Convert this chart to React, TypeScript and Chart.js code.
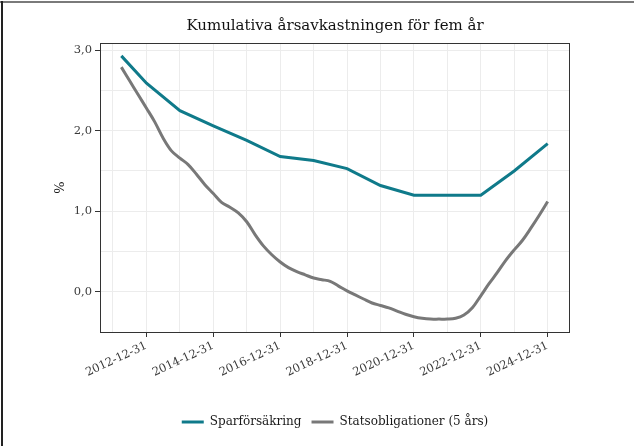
import React, { useEffect, useRef } from "react";
import { Chart, registerables } from "chart.js";

Chart.register(...registerables);

const TITLE = "Kumulativa årsavkastningen för fem år";
const Y_LABEL = "%";
const SERIES_NAMES = ["Sparförsäkring", "Statsobligationer (5 års)"];
const SERIES_COLORS = ["#0f7a8a", "#787878"];

const SPAR_DATES = [
  "2012-03-31", "2012-12-31", "2013-12-31", "2014-12-31", "2015-12-31",
  "2016-12-31", "2017-12-31", "2018-12-31", "2019-12-31", "2020-12-31",
  "2021-12-31", "2022-12-31", "2023-12-31", "2024-12-31",
];
const SPAR_VALUES = [2.93, 2.59, 2.25, 2.06, 1.88, 1.68, 1.63, 1.53, 1.32, 1.2, 1.2, 1.2, 1.5, 1.84];

const STATS_DATES = [
  "2012-03-31", "2012-06-30", "2012-09-30", "2012-12-31",
  "2013-03-31", "2013-06-30", "2013-09-30", "2013-12-31",
  "2014-03-31", "2014-06-30", "2014-09-30", "2014-12-31",
  "2015-03-31", "2015-06-30", "2015-09-30", "2015-12-31",
  "2016-03-31", "2016-06-30", "2016-09-30", "2016-12-31",
  "2017-03-31", "2017-06-30", "2017-09-30", "2017-12-31",
  "2018-03-31", "2018-06-30", "2018-09-30", "2018-12-31",
  "2019-03-31", "2019-06-30", "2019-09-30", "2019-12-31",
  "2020-03-31", "2020-06-30", "2020-09-30", "2020-12-31",
  "2021-03-31", "2021-06-30", "2021-09-30", "2021-12-31",
  "2022-03-31", "2022-06-30", "2022-09-30", "2022-12-31",
  "2023-03-31", "2023-06-30", "2023-09-30", "2023-12-31",
  "2024-03-31", "2024-06-30", "2024-09-30", "2024-12-31",
];
const STATS_VALUES = [
  2.79, 2.62, 2.45, 2.28,
  2.11, 1.91, 1.75, 1.66,
  1.58, 1.46, 1.33, 1.22,
  1.11, 1.05, 0.98, 0.87,
  0.71, 0.57, 0.46, 0.37,
  0.3, 0.25, 0.21, 0.17,
  0.15, 0.13, 0.07, 0.01,
  -0.04, -0.09, -0.14, -0.17,
  -0.2, -0.24, -0.28, -0.31,
  -0.33, -0.34, -0.34, -0.34,
  -0.33, -0.29, -0.2, -0.05,
  0.1, 0.24, 0.39, 0.52,
  0.64, 0.79, 0.95, 1.12,
];

const X_GRID_DATES = [
  "2011-12-31", "2012-12-31", "2013-12-31", "2014-12-31", "2015-12-31",
  "2016-12-31", "2017-12-31", "2018-12-31", "2019-12-31", "2020-12-31",
  "2021-12-31", "2022-12-31", "2023-12-31", "2024-12-31",
];
const X_TICK_LABELS = [
  "2012-12-31", "2014-12-31", "2016-12-31", "2018-12-31",
  "2020-12-31", "2022-12-31", "2024-12-31",
];
const Y_GRID_VALUES = [-0.5, 0, 0.5, 1, 1.5, 2, 2.5, 3];
const Y_TICK_VALUES = [0, 1, 2, 3];
const Y_MIN = -0.5;
const Y_MAX = 3.09;

const FONT = "'DejaVu Serif', serif";

const ts = (d: string) => Date.parse(d + "T00:00:00Z");
const fmtDate = (v: number) => new Date(v).toISOString().slice(0, 10);

const panelBorder = {
  id: "panelBorder",
  afterDraw(chart: any) {
    const { ctx, chartArea } = chart;
    ctx.save();
    ctx.strokeStyle = "#333333";
    ctx.lineWidth = 1;
    ctx.strokeRect(
      Math.round(chartArea.left) + 0.5,
      Math.round(chartArea.top) + 0.5,
      Math.round(chartArea.right - chartArea.left),
      Math.round(chartArea.bottom - chartArea.top)
    );
    ctx.restore();
  },
};

export default function App() {
  const ref = useRef<HTMLCanvasElement | null>(null);

  useEffect(() => {
    if (!ref.current) return;
    const sparData = SPAR_DATES.map((d, i) => ({ x: ts(d), y: SPAR_VALUES[i] }));
    const statsData = STATS_DATES.map((d, i) => ({ x: ts(d), y: STATS_VALUES[i] }));
    const allX = [...SPAR_DATES, ...STATS_DATES].map(ts);
    const xmin0 = Math.min(...allX);
    const xmax0 = Math.max(...allX);
    const pad = (xmax0 - xmin0) * 0.05;
    const labeled = new Set(X_TICK_LABELS);

    const chart = new Chart(ref.current, {
      type: "line",
      data: {
        datasets: [
          {
            label: SERIES_NAMES[0],
            data: sparData,
            borderColor: SERIES_COLORS[0],
            backgroundColor: SERIES_COLORS[0],
            borderWidth: 3,
            pointRadius: 0,
            tension: 0,
            borderCapStyle: "butt",
          },
          {
            label: SERIES_NAMES[1],
            data: statsData,
            borderColor: SERIES_COLORS[1],
            backgroundColor: SERIES_COLORS[1],
            borderWidth: 3,
            pointRadius: 0,
            tension: 0.35,
            borderCapStyle: "butt",
          },
        ],
      },
      options: {
        responsive: false,
        animation: false,
        layout: { padding: { left: 36, right: 0, top: 8, bottom: 8 } },
        plugins: {
          title: {
            display: true,
            text: TITLE,
            color: "#111111",
            font: { family: FONT, size: 15, weight: "normal" },
            padding: { top: 9, bottom: 8 },
          },
          legend: {
            position: "bottom",
            labels: {
              boxWidth: 22,
              boxHeight: 3,
              padding: 10,
              color: "#1a1a1a",
              font: { family: FONT, size: 12 },
              generateLabels: (c: any) =>
                c.data.datasets.map((ds: any, i: number) => ({
                  text: ds.label,
                  fillStyle: ds.borderColor,
                  strokeStyle: ds.borderColor,
                  lineWidth: 0,
                  hidden: false,
                  datasetIndex: i,
                  fontColor: "#1a1a1a",
                })),
            },
          },
          tooltip: { enabled: false },
        },
        scales: {
          x: {
            type: "linear",
            min: xmin0 - pad,
            max: xmax0 + pad,
            afterBuildTicks: (scale: any) => {
              scale.ticks = X_GRID_DATES.map((d) => ({ value: ts(d) }));
            },
            afterFit: (scale: any) => {
              scale.height = 74;
            },
            ticks: {
              autoSkip: false,
              minRotation: 25,
              maxRotation: 25,
              padding: 2,
              color: "#3a3a3a",
              font: { family: FONT, size: 11.5 },
              callback: (v: any) => {
                const s = fmtDate(Number(v));
                return labeled.has(s) ? s : "";
              },
            },
            grid: {
              color: "#ececec",
              lineWidth: 1,
              tickLength: 5,
              tickColor: (ctx: any) =>
                ctx.tick && labeled.has(fmtDate(ctx.tick.value)) ? "#333333" : "rgba(0,0,0,0)",
            },
            border: { display: true, color: "#333333" },
          },
          y: {
            type: "linear",
            min: Y_MIN,
            max: Y_MAX,
            afterBuildTicks: (scale: any) => {
              scale.ticks = Y_GRID_VALUES.map((v) => ({ value: v }));
            },
            ticks: {
              autoSkip: false,
              padding: 3,
              color: "#3a3a3a",
              font: { family: FONT, size: 11.5 },
              callback: (v: any) =>
                Y_TICK_VALUES.includes(Number(v)) ? Number(v).toFixed(1).replace(".", ",") : "",
            },
            grid: {
              color: (ctx: any) => (ctx.tick && ctx.tick.value === Y_MIN ? "rgba(0,0,0,0)" : "#ececec"),
              lineWidth: 1,
              tickLength: 5,
              tickColor: (ctx: any) =>
                ctx.tick && Y_TICK_VALUES.includes(ctx.tick.value) ? "#333333" : "rgba(0,0,0,0)",
            },
            border: { display: true, color: "#333333" },
            title: {
              display: true,
              text: Y_LABEL,
              color: "#1a1a1a",
              font: { family: FONT, size: 13 },
              padding: { top: 17, bottom: 0 },
            },
            afterFit: (scale: any) => {
              scale.width = 64;
            },
          },
          yRight: {
            type: "linear",
            position: "right",
            display: true,
            grid: { display: false, drawTicks: false },
            border: { display: false },
            ticks: { display: false },
            afterFit: (scale: any) => {
              scale.width = 65;
            },
          },
        },
      },
      plugins: [panelBorder],
    });
    return () => chart.destroy();
  }, []);

  return (
    <div style={{ position: "fixed", left: 0, top: 0, width: 634, height: 446, background: "#fff" }}>
      <canvas ref={ref} width={634} height={446} style={{ position: "absolute", left: 0, top: 0 }} />
      <div style={{ position: "absolute", left: 0, top: 1, width: 634, height: 2, background: "#7a7a7a" }} />
      <div style={{ position: "absolute", left: 1, top: 1, width: 2, height: 445, background: "#222" }} />
    </div>
  );
}
